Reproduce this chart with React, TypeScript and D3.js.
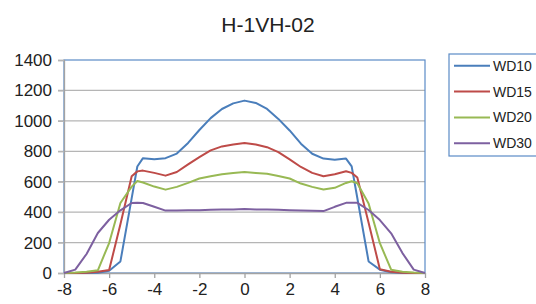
import React, { useEffect, useRef } from 'react';
import * as d3 from 'd3';

// positions along the scan (x) shared by every series
const positions = [
  -8, -7.5, -7, -6.5, -6, -5.5, -5, -4.75, -4.5, -4, -3.5, -3, -2.5, -2, -1.5, -1, -0.5,
  0, 0.5, 1, 1.5, 2, 2.5, 3, 3.5, 4, 4.5, 4.75, 5, 5.5, 6, 6.5, 7, 7.5, 8,
];

const wd10 = [
  0, 0, 0, 2, 15, 76, 492, 700, 755, 748, 755, 785, 855, 940, 1018, 1078, 1115,
  1133, 1118, 1078, 1013, 937, 850, 784, 752, 745, 752, 701, 493, 76, 22, 5, 0, 0, 0,
];
const wd15 = [
  0, 0, 2, 8, 20, 320, 636, 668, 673, 658, 640, 664, 714, 762, 806, 832, 845,
  854, 844, 827, 795, 747, 697, 658, 636, 649, 669, 658, 627, 330, 25, 8, 2, 0, 0,
];
const wd20 = [
  0, 3, 8, 18, 197, 460, 568, 605, 595, 568, 548, 566, 592, 621, 636, 649, 658,
  664, 658, 653, 638, 621, 588, 566, 549, 560, 592, 603, 590, 457, 196, 22, 8, 3, 0,
];
const wd30 = [
  0, 22, 125, 263, 350, 412, 460, 462, 460, 435, 410, 410, 412, 413, 415, 417, 418,
  420, 418, 417, 415, 412, 410, 409, 407, 435, 461, 462, 461, 414, 348, 261, 131, 22, 0,
];

const seriesNames = ['WD10', 'WD15', 'WD20', 'WD30'];
const seriesValues = [wd10, wd15, wd20, wd30];
const seriesColors = ['#4a7ebb', '#be4b48', '#98b954', '#7d60a0'];

const xTicks = [-8, -6, -4, -2, 0, 2, 4, 6, 8];
const yTicks = [0, 200, 400, 600, 800, 1000, 1200, 1400];
const title = 'H-1VH-02';

const font = '"Liberation Sans", Arial, sans-serif';

const App = () => {
  const svgRef = useRef<SVGSVGElement>(null);

  useEffect(() => {
    const width = 536;
    const height = 304;
    const plot = { left: 64, right: 425, top: 60, bottom: 273 };

    const svg = d3.select(svgRef.current);
    svg.selectAll('*').remove();
    svg.attr('width', width).attr('height', height);

    const x = d3.scaleLinear().domain([-8, 8]).range([plot.left, plot.right]);
    const y = d3.scaleLinear().domain([0, 1400]).range([plot.bottom, plot.top]);

    // title
    svg
      .append('text')
      .attr('x', 268)
      .attr('y', 32)
      .attr('text-anchor', 'middle')
      .attr('font-family', font)
      .attr('font-size', 21)
      .attr('fill', '#222')
      .text(title);

    // horizontal gridlines
    svg
      .append('g')
      .selectAll('line')
      .data(yTicks.filter((t) => t > 0 && t < 1400))
      .join('line')
      .attr('x1', plot.left - 6)
      .attr('x2', plot.right)
      .attr('y1', (d) => y(d))
      .attr('y2', (d) => y(d))
      .attr('stroke', '#b5b5b5')
      .attr('stroke-width', 1.3);

    // plot area border (blue, like the original)
    svg
      .append('rect')
      .attr('x', plot.left)
      .attr('y', plot.top)
      .attr('width', plot.right - plot.left)
      .attr('height', plot.bottom - plot.top)
      .attr('fill', 'none')
      .attr('stroke', '#5b8bc6')
      .attr('stroke-width', 1.2);

    const plain = (d: d3.NumberValue) => String(d);

    // y axis
    const yAxis = svg
      .append('g')
      .attr('transform', `translate(${plot.left},0)`)
      .call(d3.axisLeft(y).tickValues(yTicks).tickFormat(plain).tickSize(6).tickPadding(6));
    yAxis.select('.domain').attr('stroke', '#a3a3a3').attr('stroke-width', 1.3);
    yAxis.selectAll('.tick line').attr('stroke', '#b5b5b5').attr('stroke-width', 1.3);
    yAxis
      .selectAll('.tick text')
      .attr('font-family', font)
      .attr('font-size', 17)
      .attr('fill', '#222');

    // x axis
    const xAxis = svg
      .append('g')
      .attr('transform', `translate(0,${plot.bottom})`)
      .call(
        d3.axisBottom(x).tickValues(xTicks).tickFormat(plain).tickSize(5).tickPadding(5).tickSizeOuter(0)
      );
    xAxis.select('.domain').attr('stroke', '#a3a3a3').attr('stroke-width', 1.3);
    xAxis.selectAll('.tick line').attr('stroke', '#a3a3a3').attr('stroke-width', 1.3);
    xAxis
      .selectAll('.tick text')
      .attr('font-family', font)
      .attr('font-size', 17)
      .attr('fill', '#222');

    // series lines
    const line = d3
      .line<number>()
      .x((_, i) => x(positions[i]))
      .y((d) => y(d));

    seriesValues.forEach((vals, i) => {
      svg
        .append('path')
        .datum(vals)
        .attr('fill', 'none')
        .attr('stroke', seriesColors[i])
        .attr('stroke-width', 2)
        .attr('stroke-linejoin', 'round')
        .attr('d', line);
    });

    // legend
    const legend = svg.append('g');
    legend
      .append('rect')
      .attr('x', 449)
      .attr('y', 54)
      .attr('width', 92)
      .attr('height', 102)
      .attr('fill', 'white')
      .attr('stroke', '#5b8bc6')
      .attr('stroke-width', 1.2);

    const rowY = d3.scalePoint<string>().domain(seriesNames).range([65.7, 143.3]);
    seriesNames.forEach((name, i) => {
      const cy = rowY(name) as number;
      legend
        .append('line')
        .attr('x1', 454)
        .attr('x2', 490)
        .attr('y1', cy)
        .attr('y2', cy)
        .attr('stroke', seriesColors[i])
        .attr('stroke-width', 2);
      legend
        .append('text')
        .attr('x', 493)
        .attr('y', cy + 5)
        .attr('font-family', font)
        .attr('font-size', 14)
        .attr('fill', '#222')
        .text(name);
    });
  }, []);

  return (
    <svg
      ref={svgRef}
      style={{ position: 'absolute', left: 0, top: 0, display: 'block', background: 'white' }}
    ></svg>
  );
};

export default App;
